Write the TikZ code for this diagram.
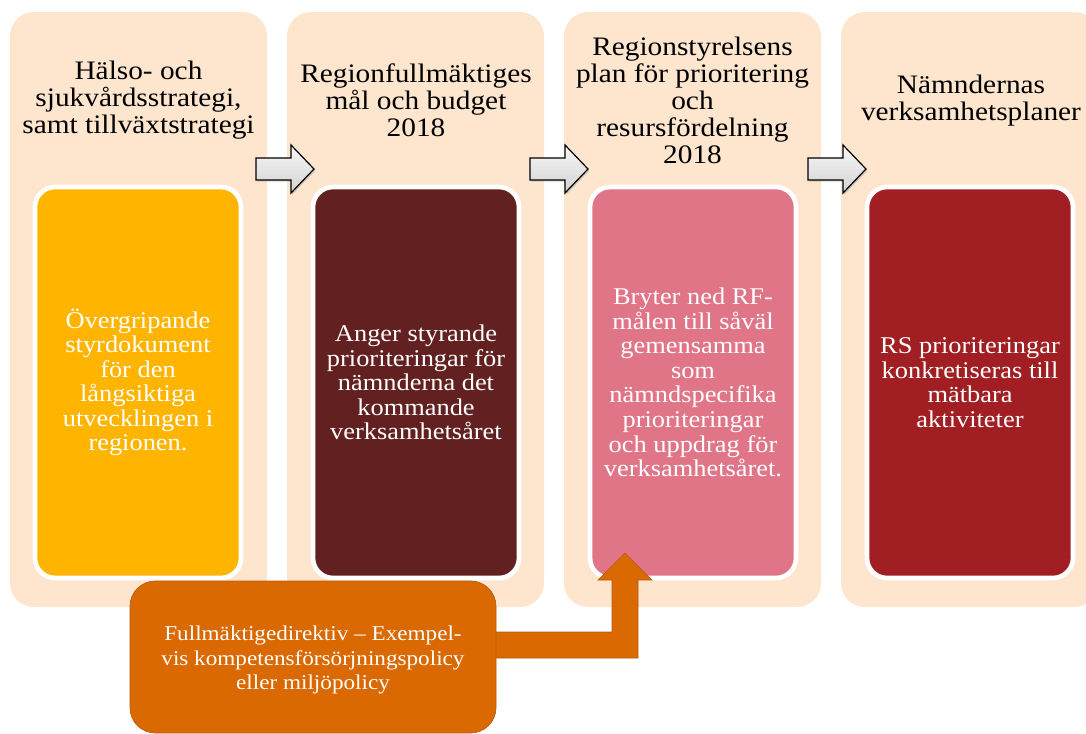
\documentclass[tikz,border=0pt]{standalone}
\usepackage{fontspec}
\setmainfont{Liberation Serif}[FakeStretch=1.1]
\usepackage{tikz}
\usetikzlibrary{shadows}

\definecolor{peach}{HTML}{FDE5CE}
\definecolor{strategyyellow}{HTML}{FFB500}
\definecolor{budgetbrown}{HTML}{622120}
\definecolor{planpink}{HTML}{E07588}
\definecolor{boardred}{HTML}{A11F22}
\definecolor{directiveorange}{HTML}{D96900}
\definecolor{directiveedge}{HTML}{B85A10}

\begin{document}
\begin{tikzpicture}[x=0.75pt,y=-0.75pt,
  column/.style={fill=peach,rounded corners=18pt},
  innerbox/.style={draw=white,line width=3.5pt,rounded corners=15pt},
  title/.style={align=center,font=\fontsize{20}{20.25}\selectfont,text=black},
  body/.style={align=center,font=\fontsize{18}{18.4}\selectfont,text=white},
  grayarrow/.style={draw=black,line width=0.9pt,line join=miter,top color=gray!6,bottom color=gray!35,
    drop shadow={opacity=0.35,shadow xshift=1pt,shadow yshift=-1.2pt}},
  directive/.style={fill=directiveorange,draw=directiveedge,line width=0.5pt}]
\useasboundingbox (0,0) rectangle (1086,733);
\pgfmathsetmacro{\colw}{257}
% columns
\foreach \x in {10,287,564,841}
  \fill[column] (\x,12) rectangle ({\x+\colw},607);
\draw[innerbox,fill=strategyyellow] (35,187) rectangle (241,578);
\draw[innerbox,fill=budgetbrown] (313,187) rectangle (519,578);
\draw[innerbox,fill=planpink] (590,187) rectangle (796,578);
\draw[innerbox,fill=boardred] (867,187) rectangle (1073,578);
% titles
\node[title] (t1) at (138.5,100) {Hälso- och\\sjukvårdsstrategi,\\samt tillväxtstrategi};
\node[title] (t2) at (416,100) {Regionfullmäktiges\\mål och budget\\2018};
\node[title] (t3) at (692.5,100) {Regionstyrelsens\\plan för prioritering\\och\\resursfördelning\\2018};
\node[title] (t4) at (971,101) {Nämndernas\\verksamhetsplaner};
% texts in the boxes
\node[body] (b1) at (138,382.5) {Övergripande\\styrdokument\\för den\\långsiktiga\\utvecklingen i\\regionen.};
\node[body] (b2) at (416,382.5) {Anger styrande\\prioriteringar för\\nämnderna det\\kommande\\verksamhetsåret};
\node[body] (b3) at (693,382.5) {Bryter ned RF-\\målen till såväl\\gemensamma\\som\\nämndspecifika\\prioriteringar\\och uppdrag för\\verksamhetsåret.};
\node[body] (b4) at (970,382.5) {RS prioriteringar\\konkretiseras till\\mätbara\\aktiviteter};
% arrows between the columns
\foreach \x in {256,530,808}
  \draw[grayarrow] (\x,158) -- ++(35,0) -- ++(0,-13) -- ++(23,24) -- ++(-23,24) -- ++(0,-13) -- ++(-35,0) -- cycle;
% directive
\draw[directive] (480,632) -- (612,632) -- (612,580) -- (598,580) -- (625,553) -- (652,580) -- (638,580) -- (638,658) -- (480,658) -- cycle;
\draw[directive,rounded corners=19pt] (130,581) rectangle (496,733);
\node[align=center,font=\fontsize{15.8}{18.4}\selectfont,text=white] (dir) at (313,660)
  {Fullmäktigedirektiv -- Exempel-\\vis kompetensförsörjningspolicy\\eller miljöpolicy};
\end{tikzpicture}
\end{document}
